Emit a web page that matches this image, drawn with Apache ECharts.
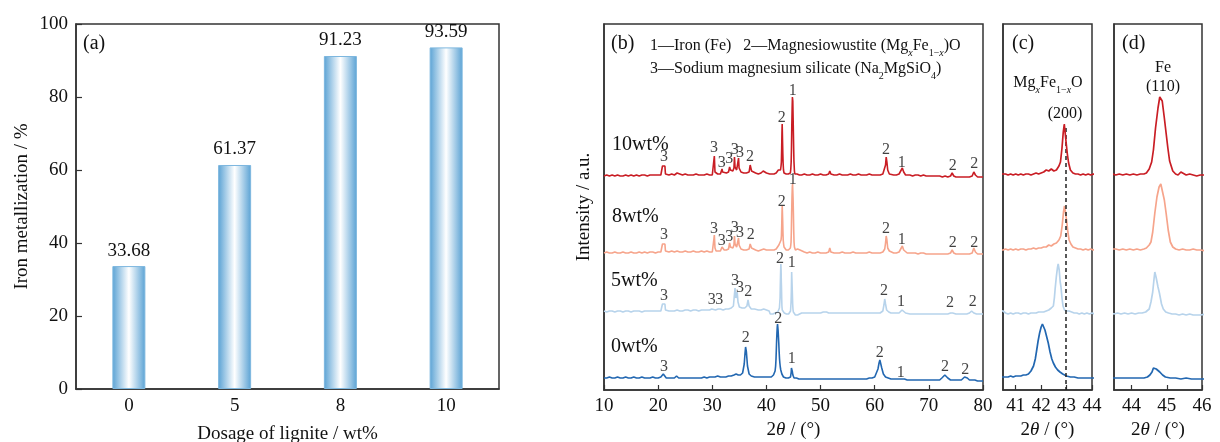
<!DOCTYPE html>
<html>
<head>
<meta charset="utf-8">
<script src="https://cdn.jsdelivr.net/npm/echarts@6/dist/echarts.min.js"></script>
<style>
html,body{margin:0;padding:0;background:#fff;}
#c{width:1220px;height:442px;}
</style>
</head>
<body>
<div id="c"></div>
<script>
// ---------- DATA ----------
const categories = ['0', '5', '8', '10'];
const metallization = [33.68, 61.37, 91.23, 93.59];

const seriesNames = ['10wt%', '8wt%', '5wt%', '0wt%'];
const xTicksB = [10, 20, 30, 40, 50, 60, 70, 80];
const xTicksC = [41, 42, 43, 44];
const xTicksD = [44, 45, 46];
const refLine2theta = 42.95;

// XRD patterns: [2theta, intensity (a.u., stacked)]
const xrd10 = [[10,214],[10.5,215],[11,214],[11.5,215],[12,214],[12.5,215],[13,214],[13.5,214],[14,215],[14.5,214],[15,215],[15.5,214],[16,215],[16.5,214],[17,215],[17.5,215],[18,214],[18.5,215],[19,215],[19.5,215],[20,215],[20.5,215],
[20.7,216],[20.8,224],[20.95,222],[21.1,225],[21.25,224],[21.35,216],[21.6,215],[22,215],[22.5,216],[23,215],[23.5,217],[23.8,215],[24.5,215],[25,216],[25.5,215],[26,215],[26.5,215],[27,216],[27.5,215],[28,215],[28.5,215],[29,216],[29.5,215],[30,215],
[30.2,216],[30.3,230],[30.38,234],[30.5,218],[30.7,216],[31,216],[31.5,216],[31.7,218],[31.8,221],[31.9,218],[32.2,217],[32.6,217],[33,218],[33.2,223],[33.35,220],[33.8,219],[34.0,222],[34.1,233],[34.2,223],[34.5,220],[34.75,222],[34.85,232],[34.95,222],[35.3,218],[35.8,217],[36.3,217],
[36.8,218],[37.0,225],[37.1,227],[37.25,219],[37.6,217],[38,217],[38.5,216],[39,217],[39.4,219],[39.6,218],[40,217],[40.3,216],[40.6,216],
[40.7,215],[40.8,216],[40.9,215],[41.0,216],[41.1,215],[41.2,216],[41.3,215],[41.4,216],[41.5,216],[41.6,215],[41.7,216],[41.8,217],[41.9,216],[42.0,217],[42.1,218],[42.2,220],[42.3,219],[42.4,221],[42.5,219],[42.6,220],[42.7,224],[42.76,228],[42.82,242],[42.87,258],[42.91,266],[42.94,265],[42.98,248],[43.03,236],[43.08,227],[43.15,220],[43.25,217],[43.35,216],[43.45,216],[43.55,215],[43.65,216],[43.75,215],[43.85,216],[43.95,215],[44.05,216],[44.15,215],[44.25,216],[44.35,216],[44.42,217],
[44.5,221],[44.57,228],[44.62,240],[44.68,262],[44.75,282],[44.8,293],[44.83,295],[44.87,289],[44.93,272],[44.98,257],[45.03,242],[45.08,229],[45.17,219],[45.25,216],[45.32,215],[45.4,218],[45.45,216],[45.55,215],[45.65,216],[45.75,215],[45.85,214],[45.95,215],[46.1,215],
[46.5,215],[47,216],[47.5,215],[48,215],[48.5,216],[49,215],[49.5,215],[50,216],[50.5,215],[51,215],[51.5,216],[51.7,219],[51.9,216],[52.5,215],[53,215],[53.5,216],[54,215],[54.5,215],[55,215],[55.5,216],[56,215],[56.5,215],[57,216],[57.2,217],[57.5,215],[58,215],[58.5,215],[59,216],[59.5,215],[60,215],[60.5,215],[61,215],[61.5,216],
[61.85,218],[62.0,225],[62.12,233],[62.25,228],[62.4,220],[62.7,216],[63,215],[63.5,215],[64,215],[64.5,216],[64.8,218],[65.1,222],[65.35,218],[65.7,215],[66,215],[66.5,215],[67,214],[67.5,215],[68,215],[68.5,214],[69,215],[69.5,214],[70,214],[70.5,214],[71,214],[71.5,214],[72,214],[72.5,213],[73,214],[73.5,213],[74,214],[74.3,217],[74.6,214],[75,213],[75.5,213],[76,213],[76.5,213],[77,213],[77.5,213],[78,214],[78.3,218],[78.6,215],[79,213],[79.5,213],[80,213]];

const xrd8 = [[10,137],[10.5,138],[11,137],[11.5,137],[12,138],[12.5,137],[13,137],[13.5,138],[14,137],[14.5,137],[15,138],[15.5,137],[16,137],[16.5,138],[17,137],[17.5,138],[18,137],[18.5,138],[19,138],[19.5,137],[20,138],[20.5,138],
[20.7,139],[20.8,146],[20.95,144],[21.1,147],[21.25,146],[21.35,139],[21.6,138],[22,138],[22.5,139],[23,138],[23.5,139],[24,138],[24.5,138],[25,139],[25.5,138],[26,138],[26.5,139],[27,138],[27.5,138],[28,139],[28.5,138],[29,139],[29.5,138],[30,138],
[30.2,140],[30.3,151],[30.38,155],[30.5,142],[30.7,139],[31,139],[31.5,139],[31.7,141],[31.8,143],[31.9,141],[32.2,140],[32.6,140],[33,141],[33.2,147],[33.35,143],[33.8,142],[34.0,145],[34.1,154],[34.2,146],[34.5,143],[34.75,145],[34.85,152],[34.95,145],[35.3,141],[35.8,140],[36.3,140],[36.8,141],[37.0,146],[37.1,148],[37.25,142],[37.6,140],[38,140],[38.5,139],[39,140],[39.5,141],[40,140],[40.5,140],
[40.6,141],[40.7,140],[40.8,141],[40.9,140],[41.0,141],[41.1,140],[41.2,141],[41.3,141],[41.4,140],[41.5,141],[41.6,141],[41.7,142],[41.8,141],[41.9,142],[42.0,142],[42.1,143],[42.2,143],[42.3,145],[42.4,144],[42.5,146],[42.6,147],[42.7,150],[42.77,154],[42.83,165],[42.88,178],[42.92,184],[42.96,183],[43.0,170],[43.05,158],[43.1,150],[43.17,146],[43.25,143],[43.35,142],[43.45,141],[43.55,141],[43.65,140],[43.75,141],[43.85,140],[43.95,141],[44.05,140],[44.15,141],[44.25,140],[44.35,141],[44.42,142],
[44.5,145],[44.55,148],[44.6,158],[44.66,177],[44.72,193],[44.78,203],[44.83,206],[44.87,204],[44.93,190],[44.98,177],[45.04,160],[45.1,148],[45.17,143],[45.25,141],[45.35,140],[45.45,141],[45.55,140],[45.65,140],[45.75,141],[45.85,140],[45.95,140],[46.1,139],[46.2,140],
[46.5,138],[47,138],[47.5,137],[48,138],[48.5,137],[49,137],[49.5,138],[50,137],[50.5,137],[51,137],[51.5,138],[51.7,142],[51.9,138],[52.5,137],[53,137],[53.5,137],[54,138],[54.5,137],[55,137],[55.5,137],[56,138],[56.5,137],[57,137],[57.2,139],[57.5,137],[58,137],[58.5,137],[59,138],[59.5,137],[60,137],[60.5,137],[61,137],[61.5,138],
[61.85,141],[62.0,147],[62.12,154],[62.25,150],[62.4,142],[62.7,139],[63,138],[63.5,137],[64,137],[64.5,138],[64.8,140],[65.1,144],[65.35,140],[65.7,138],[66,137],[66.5,137],[67,137],[67.5,137],[68,136],[68.5,137],[69,137],[69.5,136],[70,136],[70.5,136],[71,136],[71.5,136],[72,136],[72.5,136],[73,136],[73.5,136],[74,137],[74.3,140],[74.6,137],[75,136],[75.5,136],[76,136],[76.5,136],[77,136],[77.5,136],[78,137],[78.3,142],[78.6,138],[79,136],[79.5,136],[80,136]];

const xrd5 = [[10,79],[10.5,78],[11,79],[11.5,79],[12,78],[12.5,79],[13,79],[13.5,78],[14,79],[14.5,79],[15,78],[15.5,79],[16,79],[16.5,79],[17,78],[17.5,79],[18,79],[18.5,79],[19,79],[19.5,79],[20,79],[20.5,79],
[20.7,80],[20.8,86],[20.95,84],[21.1,87],[21.25,86],[21.35,80],[21.6,79],[22,79],[22.5,79],[23,79],[23.5,80],[24,79],[24.5,79],[25,80],[25.5,80],[26,79],[26.5,80],[27,80],[27.5,79],[28,80],[28.5,80],[29,80],[29.5,80],[29.9,81],[30.05,83],[30.2,81],[30.6,80],[31.1,81],[31.3,82],[31.5,81],[32,80],[32.5,81],[33,81],[33.5,82],[33.9,84],[34.1,96],[34.2,102],[34.35,92],[34.5,94],[34.6,98],[34.75,88],[35,83],[35.5,82],[36,82],[36.4,84],[36.6,90],[36.8,84],[37.2,81],[37.8,81],[38.5,80],[39,80],[39.5,81],[39.7,82],[40,80],[40.5,79],
[40.6,77],[40.7,76],[40.8,77],[40.9,76],[41.0,77],[41.1,77],[41.2,76],[41.3,77],[41.4,77],[41.5,76],[41.6,77],[41.7,77],[41.8,77],[41.9,78],[42.0,78],[42.1,78],[42.2,79],[42.3,80],[42.4,82],[42.48,84],[42.52,92],[42.55,101],[42.6,114],[42.64,122],[42.67,126],[42.71,120],[42.75,108],[42.78,103],[42.82,92],[42.86,84],[42.92,80],[43.0,79],[43.1,79],[43.2,78],[43.3,77],[43.4,77],[43.5,76],[43.6,77],[43.7,76],[43.8,77],[43.9,76],[44.0,77],[44.1,76],[44.2,77],[44.3,77],[44.4,78],
[44.45,79],[44.5,81],[44.55,88],[44.6,98],[44.64,112],[44.66,118],[44.7,112],[44.75,103],[44.79,97],[44.85,86],[44.9,81],[44.97,78],[45.05,77],[45.15,76],[45.25,76],[45.35,75],[45.45,76],[45.55,75],[45.65,76],[45.75,75],[45.85,75],[45.95,75],[46.1,76],
[46.5,77],[47,77],[47.5,77],[48,77],[48.5,77],[49,77],[49.5,77],[50,77],[50.5,78],[50.8,80],[51.1,78],[51.5,77],[52,77],[52.5,77],[53,77],[53.5,77],[54,77],[54.5,77],[55,77],[55.5,77],[56,77],[56.5,77],[57,77],[57.5,77],[58,77],[58.5,77],[59,77],[59.5,77],[60,77],[60.5,77],[61,77],
[61.5,79],[61.7,85],[61.85,91],[62.0,86],[62.2,80],[62.6,78],[63,77],[63.5,77],[64,77],[64.5,77],[64.85,78],[65.05,80],[65.25,78],[65.7,77],[66,77],[66.5,76],[67,76],[67.5,76],[68,76],[68.5,76],[69,76],[69.5,76],[70,76],[70.5,76],[71,76],[71.5,76],[72,76],[72.5,76],[73,76],[73.5,76],[74,77],[74.15,78],[74.4,77],[75,76],[75.5,76],[76,76],[76.5,76],[77,76],[77.5,77],[77.9,79],[78.3,77],[78.8,76],[79.5,76],[80,76]];

const xrd0 = [[10,12],[10.5,12],[11,13],[11.5,12],[12,12],[12.5,13],[13,12],[13.5,12],[14,13],[14.5,12],[15,12],[15.5,13],[16,12],[16.5,12],[17,13],[17.5,12],[18,12],[18.5,12],[19,13],[19.5,12],[20,12],[20.5,13],[20.8,14],[20.95,16],[21.15,14],[21.5,12],[22,12],[22.5,12],[23,12],[23.4,14],[23.55,13],[23.8,12],[24.5,12],[25,12],[25.5,12],[26,12],[26.5,12],[27,12],[27.5,12],[28,12],[28.5,13],[29,12],[29.5,13],[30,13],[30.5,13],[31,14],[31.5,13],[32,13],[32.5,13],[33,14],[33.5,14],[34,15],[34.4,16],[34.8,15],[35.2,15],[35.6,17],[35.9,26],[36.05,37],[36.15,43],[36.3,38],[36.5,24],[36.8,16],[37.2,14],[37.8,13],[38.5,13],[39,13],[39.5,13],[40,13],[40.5,13],
[40.6,13],[40.7,13],[40.8,14],[40.9,13],[41.0,14],[41.1,14],[41.2,14],[41.3,15],[41.4,15],[41.5,16],[41.6,19],[41.7,24],[41.77,31],[41.82,39],[41.88,49],[41.94,57],[42.0,63],[42.05,66],[42.1,65],[42.15,60],[42.2,55],[42.28,47],[42.35,38],[42.42,31],[42.48,27],[42.56,23],[42.65,20],[42.74,18],[42.85,16],[43.0,14],[43.15,13],[43.3,13],[43.45,12],[43.6,12],[43.75,12],[43.9,12],[44.05,12],[44.2,12],[44.35,12],
[44.45,13],[44.52,15],[44.58,18],[44.62,22],[44.66,24],[44.7,21],[44.75,20],[44.8,18],[44.88,15],[44.96,13],[45.1,12],[45.25,12],[45.4,11],[45.55,12],[45.7,11],[45.85,11],[46.0,11],
[46.5,11],[47,11],[47.5,11],[48,11],[48.5,11],[49,11],[49.5,11],[50,11],[50.5,11],[51,11],[51.5,11],[52,11],[52.5,11],[53,11],[53.5,11],[54,11],[54.5,11],[55,11],[55.5,11],[56,11],[56.5,11],[57,11],[57.5,11],[58,11],[58.5,11],[59,12],[59.5,12],[60,13],[60.3,15],[60.6,21],[60.8,27],[60.95,30],[61.1,28],[61.3,22],[61.6,16],[62,13],[62.5,12],[63,11],[63.5,11],[64,11],[64.5,11],[65,11],[65.5,11],[66,10],[66.5,10],[67,10],[67.5,10],[68,10],[68.5,10],[69,10],[69.5,10],[70,10],[70.5,10],[71,10],[71.5,10],[72,10],[72.4,12],[72.7,14],[72.95,15],[73.2,14],[73.5,12],[74,10],[74.5,10],[75,10],[75.5,10],[76,10],[76.3,12],[76.6,13],[76.8,13],[77.1,12],[77.5,10],[78,10],[78.5,10],[79,9],[79.5,9],[80,9]];

// Peak phase labels: [2theta, label height, phase number]
const labels10 = [[21.08,233,'3'],[30.32,242,'3'],[31.74,227,'3'],[33.14,231,'3'],[34.14,240,'3'],[35.12,237,'3'],[36.97,233,'2'],[42.82,272,'2'],[44.85,299,'1'],[62.09,240,'2'],[64.99,227,'1'],[74.41,224,'2'],[78.4,226,'2']];
const labels8 = [[21.08,155,'3'],[30.32,161,'3'],[31.74,149,'3'],[33.14,153,'3'],[34.14,162,'3'],[35.12,157,'3'],[37.1,155,'2'],[42.82,188,'2'],[44.85,210,'1'],[62.09,161,'2'],[64.99,150,'1'],[74.41,147,'2'],[78.4,147,'2']];
const labels5 = [[21.08,94,'3'],[29.9,90,'3'],[31.3,90,'3'],[34.2,109,'3'],[35.12,102,'3'],[36.66,98,'2'],[42.5,131,'2'],[44.66,127,'1'],[61.7,99,'2'],[64.86,88,'1'],[73.9,87,'2'],[78.1,88,'2']];
const labels0 = [[21.08,23,'3'],[36.2,52,'2'],[42.2,71,'2'],[44.66,31,'1'],[60.95,37,'2'],[64.8,17,'1'],[73.0,23,'2'],[76.7,20,'2']];

// ---------- CHART ----------
const FONT = 'Liberation Serif';
const colors = ['#c91d24', '#f6a48b', '#b7d3eb', '#2267b1'];
const patterns = [xrd10, xrd8, xrd5, xrd0];
const peakLabels = [labels10, labels8, labels5, labels0];
const AX = '#333';

const chart = echarts.init(document.getElementById('c'), null, {renderer: 'canvas'});

const grids = [
  {left: 76, top: 24, width: 423, height: 365},
  {left: 604, top: 24, width: 379, height: 366},
  {left: 1003, top: 24, width: 89, height: 366},
  {left: 1114, top: 24, width: 88, height: 366}
].map(g => Object.assign(g, {show: true, borderColor: AX, borderWidth: 1.5, backgroundColor: 'transparent', containLabel: false, outerBoundsMode: 'none'}));

const tickLbl = {fontFamily: FONT, fontSize: 19, color: '#111'};
const nameStyle = {fontFamily: FONT, fontSize: 19, color: '#111', rich: {i: {fontFamily: FONT, fontSize: 19, fontStyle: 'italic', color: '#111'}}};

function valX(gi, min, max, ticks, tickPos, nameGap) {
  return {
    type: 'value', gridIndex: gi, min: min, max: max,
    name: '2{i|θ} / (°)', nameLocation: 'middle', nameGap: nameGap, nameTextStyle: nameStyle,
    axisLine: {show: true, lineStyle: {color: AX, width: 1.5}},
    axisTick: {show: true, inside: true, length: 5, lineStyle: {color: AX, width: 1.2}, customValues: tickPos},
    axisLabel: Object.assign({margin: 7, customValues: ticks}, tickLbl),
    splitLine: {show: false}
  };
}
function hiddenY(gi) {
  return {
    type: 'value', gridIndex: gi, min: 0, max: 366,
    axisLine: {show: true, lineStyle: {color: AX, width: 1.5}},
    axisTick: {show: false}, axisLabel: {show: false}, splitLine: {show: false}
  };
}

const xAxis = [
  {
    type: 'category', gridIndex: 0, data: categories,
    name: 'Dosage of lignite / wt%', nameLocation: 'middle', nameGap: 36, nameTextStyle: nameStyle,
    axisLine: {lineStyle: {color: AX, width: 1.5}},
    axisTick: {inside: true, alignWithLabel: true, length: 6, lineStyle: {color: AX, width: 1.2}},
    axisLabel: Object.assign({margin: 8}, tickLbl)
  },
  valX(1, 10, 80, xTicksB, xTicksB, 25),
  valX(2, 40.5, 44, xTicksC, xTicksC, 25),
  valX(3, 43.5, 46, xTicksD, xTicksD, 25)
];
const yAxis = [
  {
    type: 'value', gridIndex: 0, min: 0, max: 100, interval: 20,
    name: 'Iron metallization / %', nameLocation: 'middle', nameGap: 44, nameTextStyle: nameStyle,
    axisLine: {show: true, lineStyle: {color: AX, width: 1.5}},
    axisTick: {show: true, inside: true, length: 6, lineStyle: {color: AX, width: 1.2}},
    axisLabel: Object.assign({margin: 8}, tickLbl),
    splitLine: {show: false}
  },
  Object.assign(hiddenY(1), {name: 'Intensity / a.u.', nameLocation: 'middle', nameGap: 10, nameTextStyle: nameStyle}),
  hiddenY(2),
  hiddenY(3)
];

const series = [{
  type: 'bar', xAxisIndex: 0, yAxisIndex: 0, data: metallization, barWidth: 33,
  itemStyle: {
    color: new echarts.graphic.LinearGradient(0, 0, 1, 0, [
      {offset: 0, color: '#5aa2d4'},
      {offset: 0.5, color: '#ffffff'},
      {offset: 1, color: '#5aa2d4'}
    ]),
    borderColor: '#7db7df', borderWidth: 1
  },
  label: {show: true, position: 'top', distance: 6, fontFamily: FONT, fontSize: 19, color: '#111', formatter: p => p.value.toFixed(2)}
}];

patterns.forEach((d, k) => {
  for (let gi = 1; gi <= 3; gi++) {
    const s = {
      type: 'line', name: seriesNames[k], xAxisIndex: gi, yAxisIndex: gi, data: d,
      showSymbol: false, symbol: 'none', clip: true, z: 5 - k,
      lineStyle: {color: colors[k], width: gi === 1 ? 1.6 : 1.7}
    };
    if (gi === 2 && k === 0) {
      s.markLine = {
        silent: true, symbol: 'none', label: {show: false},
        lineStyle: {type: [4, 3], color: '#222', width: 1.5},
        data: [[{coord: [refLine2theta, 262]}, {coord: [refLine2theta, 0]}]]
      };
    }
    series.push(s);
  }
  series.push({
    type: 'scatter', xAxisIndex: 1, yAxisIndex: 1, data: peakLabels[k],
    symbolSize: 1, itemStyle: {color: 'rgba(0,0,0,0)'}, z: 10, silent: true,
    label: {show: true, position: 'inside', formatter: p => p.data[2], fontFamily: FONT, fontSize: 16, color: '#111'}
  });
});

const base = {fontFamily: FONT, fontSize: 16, fill: '#111'};
const subRich = {
  n: {fontFamily: FONT, fontSize: 16, lineHeight: 20, verticalAlign: 'top', color: '#111'},
  s: {fontFamily: FONT, fontSize: 10, lineHeight: 10, verticalAlign: 'bottom', color: '#111'},
  si: {fontFamily: FONT, fontSize: 10, lineHeight: 10, verticalAlign: 'bottom', fontStyle: 'italic', color: '#111'}
};
function txt(x, y, text, extra) {
  return {type: 'text', x: x, y: y, z: 20, style: Object.assign({text: text}, base, extra || {})};
}

const graphic = [
  txt(83, 34, '(a)', {fontSize: 20}),
  txt(611, 34, '(b)', {fontSize: 20}),
  txt(1012, 34, '(c)', {fontSize: 20}),
  txt(1122, 34, '(d)', {fontSize: 20}),
  txt(650, 38, '{n|1—Iron (Fe)   2—Magnesiowustite (Mg}{si|x}{n|Fe}{s|1−}{si|x}{n|)O}', {rich: subRich}),
  txt(650, 61, '{n|3—Sodium magnesium silicate (Na}{s|2}{n|MgSiO}{s|4}{n|)}', {rich: subRich}),
  txt(612, 135, '10wt%', {fontSize: 20}),
  txt(612, 207, '8wt%', {fontSize: 20}),
  txt(611, 271, '5wt%', {fontSize: 20}),
  txt(611, 337, '0wt%', {fontSize: 20}),
  txt(1048, 75, '{n|Mg}{si|x}{n|Fe}{s|1−}{si|x}{n|O}', {rich: subRich, align: 'center'}),
  txt(1065, 106, '(200)', {align: 'center'}),
  txt(1163, 60, 'Fe', {align: 'center'}),
  txt(1163, 79, '(110)', {align: 'center'})
];

chart.setOption({
  animation: false,
  backgroundColor: '#fff',
  grid: grids,
  xAxis: xAxis,
  yAxis: yAxis,
  series: series,
  graphic: graphic
});
</script>
</body>
</html>
